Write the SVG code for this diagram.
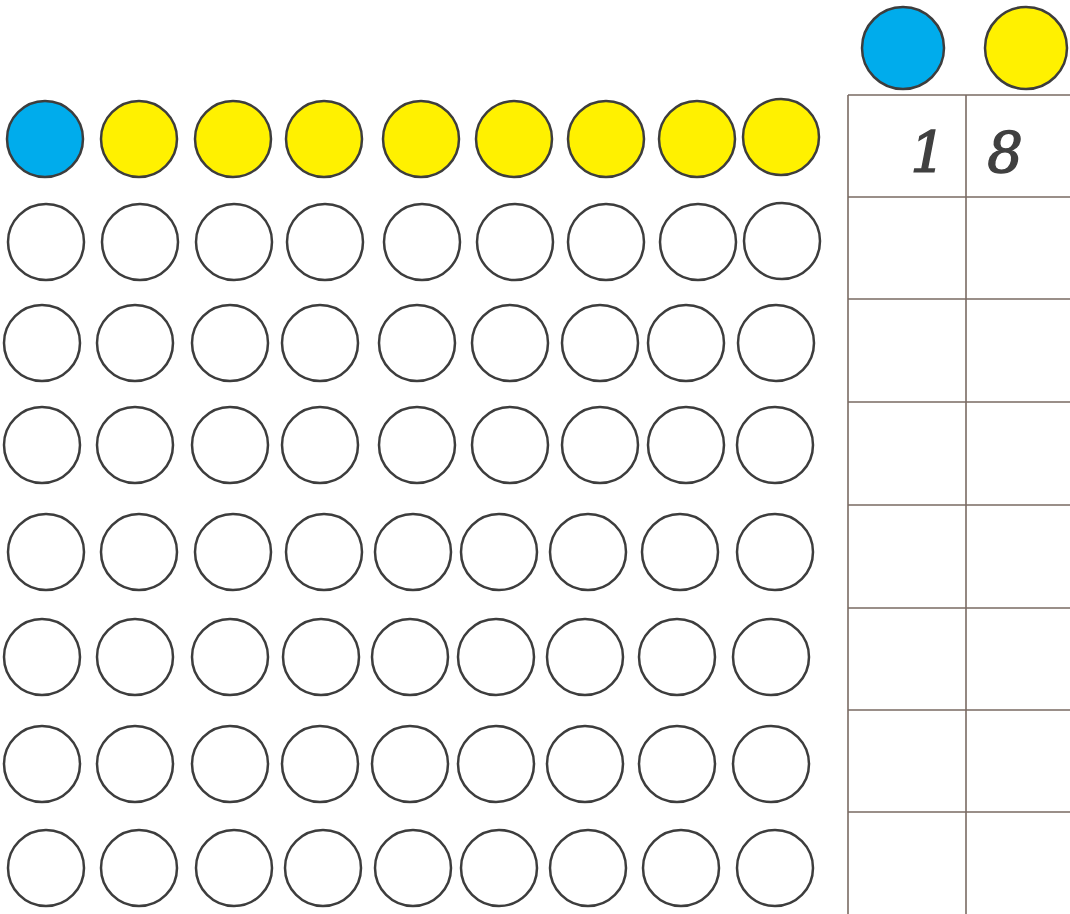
<svg xmlns="http://www.w3.org/2000/svg" width="1070" height="914" viewBox="0 0 1070 914">
<style>
.c{stroke:#3d3d3d;stroke-width:2.5;fill:#fff}
.b{fill:#00acec}
.y{fill:#fff100}
.g{stroke:#7a6b63;stroke-width:1.6;fill:none}
.d{font-family:"DejaVu Serif",serif;font-style:italic;font-size:56px;fill:#404040;stroke:#404040;stroke-width:1.4;text-anchor:middle}
</style>
<rect width="1070" height="914" fill="#fff"/>
<g id="legend">
<circle class="c b" cx="903" cy="48" r="41"/>
<circle class="c y" cx="1026" cy="48" r="41"/>
</g>
<g id="table">
<path class="g" d="M848 95V914M966 95V914M848 95H1070M848 197H1070M848 299H1070M848 402H1070M848 505H1070M848 608H1070M848 710H1070M848 812H1070"/>
<text class="d" x="928" y="172">1</text>
<text class="d" x="1005" y="172">8</text>
</g>
<g id="row1">
<circle class="c b" cx="45" cy="139" r="38"/>
<circle class="c y" cx="139" cy="139" r="38"/>
<circle class="c y" cx="233" cy="139" r="38"/>
<circle class="c y" cx="324" cy="139" r="38"/>
<circle class="c y" cx="421" cy="139" r="38"/>
<circle class="c y" cx="514" cy="139" r="38"/>
<circle class="c y" cx="606" cy="139" r="38"/>
<circle class="c y" cx="697" cy="139" r="38"/>
<circle class="c y" cx="781" cy="137" r="38"/>
</g>
<g id="row2">
<circle class="c" cx="46" cy="242" r="38"/>
<circle class="c" cx="140" cy="242" r="38"/>
<circle class="c" cx="234" cy="242" r="38"/>
<circle class="c" cx="325" cy="242" r="38"/>
<circle class="c" cx="422" cy="242" r="38"/>
<circle class="c" cx="515" cy="242" r="38"/>
<circle class="c" cx="606" cy="242" r="38"/>
<circle class="c" cx="698" cy="242" r="38"/>
<circle class="c" cx="782" cy="241" r="38"/>
</g>
<g id="row3">
<circle class="c" cx="42" cy="343" r="38"/>
<circle class="c" cx="135" cy="343" r="38"/>
<circle class="c" cx="230" cy="343" r="38"/>
<circle class="c" cx="320" cy="343" r="38"/>
<circle class="c" cx="417" cy="343" r="38"/>
<circle class="c" cx="510" cy="343" r="38"/>
<circle class="c" cx="600" cy="343" r="38"/>
<circle class="c" cx="686" cy="343" r="38"/>
<circle class="c" cx="776" cy="343" r="38"/>
</g>
<g id="row4">
<circle class="c" cx="42" cy="445" r="38"/>
<circle class="c" cx="135" cy="445" r="38"/>
<circle class="c" cx="230" cy="445" r="38"/>
<circle class="c" cx="320" cy="445" r="38"/>
<circle class="c" cx="417" cy="445" r="38"/>
<circle class="c" cx="510" cy="445" r="38"/>
<circle class="c" cx="600" cy="445" r="38"/>
<circle class="c" cx="686" cy="445" r="38"/>
<circle class="c" cx="775" cy="445" r="38"/>
</g>
<g id="row5">
<circle class="c" cx="46" cy="552" r="38"/>
<circle class="c" cx="139" cy="552" r="38"/>
<circle class="c" cx="233" cy="552" r="38"/>
<circle class="c" cx="324" cy="552" r="38"/>
<circle class="c" cx="413" cy="552" r="38"/>
<circle class="c" cx="499" cy="552" r="38"/>
<circle class="c" cx="588" cy="552" r="38"/>
<circle class="c" cx="680" cy="552" r="38"/>
<circle class="c" cx="775" cy="552" r="38"/>
</g>
<g id="row6">
<circle class="c" cx="42" cy="657" r="38"/>
<circle class="c" cx="135" cy="657" r="38"/>
<circle class="c" cx="230" cy="657" r="38"/>
<circle class="c" cx="321" cy="657" r="38"/>
<circle class="c" cx="410" cy="657" r="38"/>
<circle class="c" cx="496" cy="657" r="38"/>
<circle class="c" cx="585" cy="657" r="38"/>
<circle class="c" cx="677" cy="657" r="38"/>
<circle class="c" cx="771" cy="657" r="38"/>
</g>
<g id="row7">
<circle class="c" cx="42" cy="764" r="38"/>
<circle class="c" cx="135" cy="764" r="38"/>
<circle class="c" cx="230" cy="764" r="38"/>
<circle class="c" cx="320" cy="764" r="38"/>
<circle class="c" cx="410" cy="764" r="38"/>
<circle class="c" cx="496" cy="764" r="38"/>
<circle class="c" cx="585" cy="764" r="38"/>
<circle class="c" cx="677" cy="764" r="38"/>
<circle class="c" cx="771" cy="764" r="38"/>
</g>
<g id="row8">
<circle class="c" cx="46" cy="868" r="38"/>
<circle class="c" cx="139" cy="868" r="38"/>
<circle class="c" cx="234" cy="868" r="38"/>
<circle class="c" cx="323" cy="868" r="38"/>
<circle class="c" cx="413" cy="868" r="38"/>
<circle class="c" cx="499" cy="868" r="38"/>
<circle class="c" cx="588" cy="868" r="38"/>
<circle class="c" cx="681" cy="868" r="38"/>
<circle class="c" cx="775" cy="868" r="38"/>
</g>
</svg>
